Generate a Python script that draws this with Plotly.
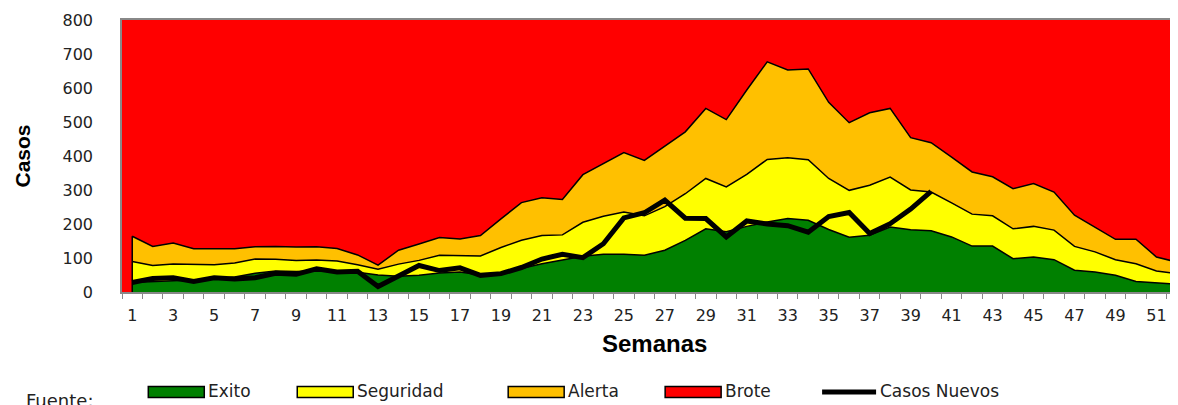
import plotly.graph_objects as go

# Data (cases per epidemiological week)
semanas = list(range(1, 53))

exito = [28, 30, 34, 36, 38, 44, 55, 62, 60, 62, 59, 58, 50, 46, 49, 56, 59, 50, 52, 69,
         83, 93, 105, 111, 111, 108, 123, 152, 186, 177, 193, 206, 216, 211, 184, 161, 167, 191, 183, 180,
         162, 135, 135, 98, 103, 95, 64, 59, 49, 31, 27, 23]

seguridad = [90, 78, 82, 81, 80, 85, 97, 96, 93, 94, 91, 80, 67, 82, 93, 108, 107, 106, 131, 152,
             166, 168, 205, 223, 235, 224, 251, 289, 334, 309, 346, 390, 395, 389, 334, 299, 314, 338, 300, 294,
             262, 229, 224, 186, 193, 182, 134, 118, 95, 83, 62, 54]

alerta = [164, 134, 144, 127, 127, 127, 133, 134, 132, 133, 128, 109, 79, 123, 141, 160, 156, 166, 215, 263,
          277, 272, 345, 377, 410, 387, 430, 471, 540, 507, 594, 677, 653, 656, 558, 498, 527, 540, 454, 439,
          397, 353, 339, 304, 319, 294, 226, 191, 155, 155, 103, 88]

brote = [800] * 52

casos_nuevos = [28, 40, 42, 31, 42, 38, 42, 55, 52, 68, 59, 61, 16, 49, 78, 63, 71, 49, 54, 72,
                97, 111, 101, 142, 218, 233, 270, 217, 216, 162, 209, 200, 195, 176, 222, 234, 172, 201, 244, 296]

y_ticks = [0, 100, 200, 300, 400, 500, 600, 700, 800]
x_ticks = semanas[::2]

colores = {"Exito": "#008000", "Seguridad": "#FFFF00", "Alerta": "#FFC000", "Brote": "#FF0000"}

# page geometry (the html body adds an 8px margin)
OFF = 8
W, H = 1178 - OFF, 405 - OFF
PLOT_L, PLOT_R, PLOT_T, PLOT_B = 121.7, 1178, 20, 291.7
L, R, T, B = PLOT_L - OFF, 0, PLOT_T - OFF, H - (PLOT_B - OFF)


def px_x(p):
    return (p - PLOT_L) / (PLOT_R - PLOT_L)


def px_y(p):
    return (PLOT_B - p) / (PLOT_B - PLOT_T)


fig = go.Figure()

fig.add_trace(go.Scatter(x=semanas, y=exito, name="Exito", mode="lines", fill="tozeroy",
                         fillcolor=colores["Exito"], line=dict(color="black", width=1.5)))
fig.add_trace(go.Scatter(x=semanas, y=seguridad, name="Seguridad", mode="lines", fill="tonexty",
                         fillcolor=colores["Seguridad"], line=dict(color="black", width=1.5)))
fig.add_trace(go.Scatter(x=semanas, y=alerta, name="Alerta", mode="lines", fill="tonexty",
                         fillcolor=colores["Alerta"], line=dict(color="black", width=1.5)))
fig.add_trace(go.Scatter(x=semanas, y=brote, name="Brote", mode="lines", fill="tonexty",
                         fillcolor=colores["Brote"], line=dict(color=colores["Brote"], width=0)))

# vertical edges of the channel at first and last week
for i in (0, -1):
    fig.add_trace(go.Scatter(x=[semanas[i], semanas[i]], y=[0, alerta[i]], mode="lines",
                             line=dict(color="black", width=1.5), showlegend=False, hoverinfo="skip"))

fig.add_trace(go.Scatter(x=semanas[:len(casos_nuevos)], y=casos_nuevos, name="Casos Nuevos",
                         mode="lines", line=dict(color="black", width=5)))

fig.update_layout(
    width=W, height=H,
    margin=dict(l=L, r=R, t=T, b=B, autoexpand=False),
    paper_bgcolor="white", plot_bgcolor=colores["Brote"],
    showlegend=False,
    font=dict(family="DejaVu Sans", size=16, color="#222222"),
)

fig.update_xaxes(range=[0.5, 0.5 + (PLOT_R - PLOT_L) / 20.49], tickmode="array", tickvals=x_ticks,
                 ticktext=[str(v) for v in x_ticks], ticks="", ticklabelstandoff=8, automargin=False,
                 showgrid=False, zeroline=False, showline=True, linecolor="#888888", linewidth=1.5,
                 mirror=True,
                 minor=dict(tickmode="array", tickvals=[s - 0.5 for s in semanas], ticks="outside",
                            ticklen=5, tickcolor="#888888", tickwidth=1, showgrid=False))
fig.update_yaxes(range=[0, 800], tickmode="array", tickvals=y_ticks, ticks="", automargin=False,
                 ticklabelstandoff=24, showgrid=False, zeroline=False, showline=True,
                 linecolor="#888888", linewidth=1.5, mirror=True)

# axis titles
fig.add_annotation(text="<b>Casos</b>", xref="paper", yref="paper", x=px_x(22), y=px_y(156),
                   xanchor="center", yanchor="middle", textangle=-90, showarrow=False,
                   font=dict(family="Liberation Sans", size=21, color="black"))
fig.add_annotation(text="<b>Semanas</b>", xref="paper", yref="paper", x=px_x(654), y=px_y(343),
                   xanchor="center", yanchor="middle", showarrow=False,
                   font=dict(family="Liberation Sans", size=24, color="black"))
fig.add_annotation(text="Fuente:", xref="paper", yref="paper", x=px_x(24), y=px_y(388),
                   xanchor="left", yanchor="top", showarrow=False,
                   font=dict(family="DejaVu Sans", size=18, color="#222222"))

# legend drawn below the chart
leyenda = [("Exito", 148), ("Seguridad", 297), ("Alerta", 508), ("Brote", 665)]
for nombre, x0 in leyenda:
    fig.add_shape(type="rect", xref="paper", yref="paper",
                  x0=px_x(x0), x1=px_x(x0 + 56), y0=px_y(397), y1=px_y(386),
                  fillcolor=colores[nombre], line=dict(color="black", width=1.5))
    fig.add_annotation(text=nombre, xref="paper", yref="paper", x=px_x(x0 + 58), y=px_y(391),
                       xanchor="left", yanchor="middle", showarrow=False,
                       font=dict(family="DejaVu Sans", size=17, color="#222222"))
fig.add_shape(type="line", xref="paper", yref="paper", x0=px_x(822), x1=px_x(876),
              y0=px_y(391.5), y1=px_y(391.5), line=dict(color="black", width=5))
fig.add_annotation(text="Casos Nuevos", xref="paper", yref="paper", x=px_x(878), y=px_y(391),
                   xanchor="left", yanchor="middle", showarrow=False,
                   font=dict(family="DejaVu Sans", size=17, color="#222222"))

fig.write_html("out.html")
